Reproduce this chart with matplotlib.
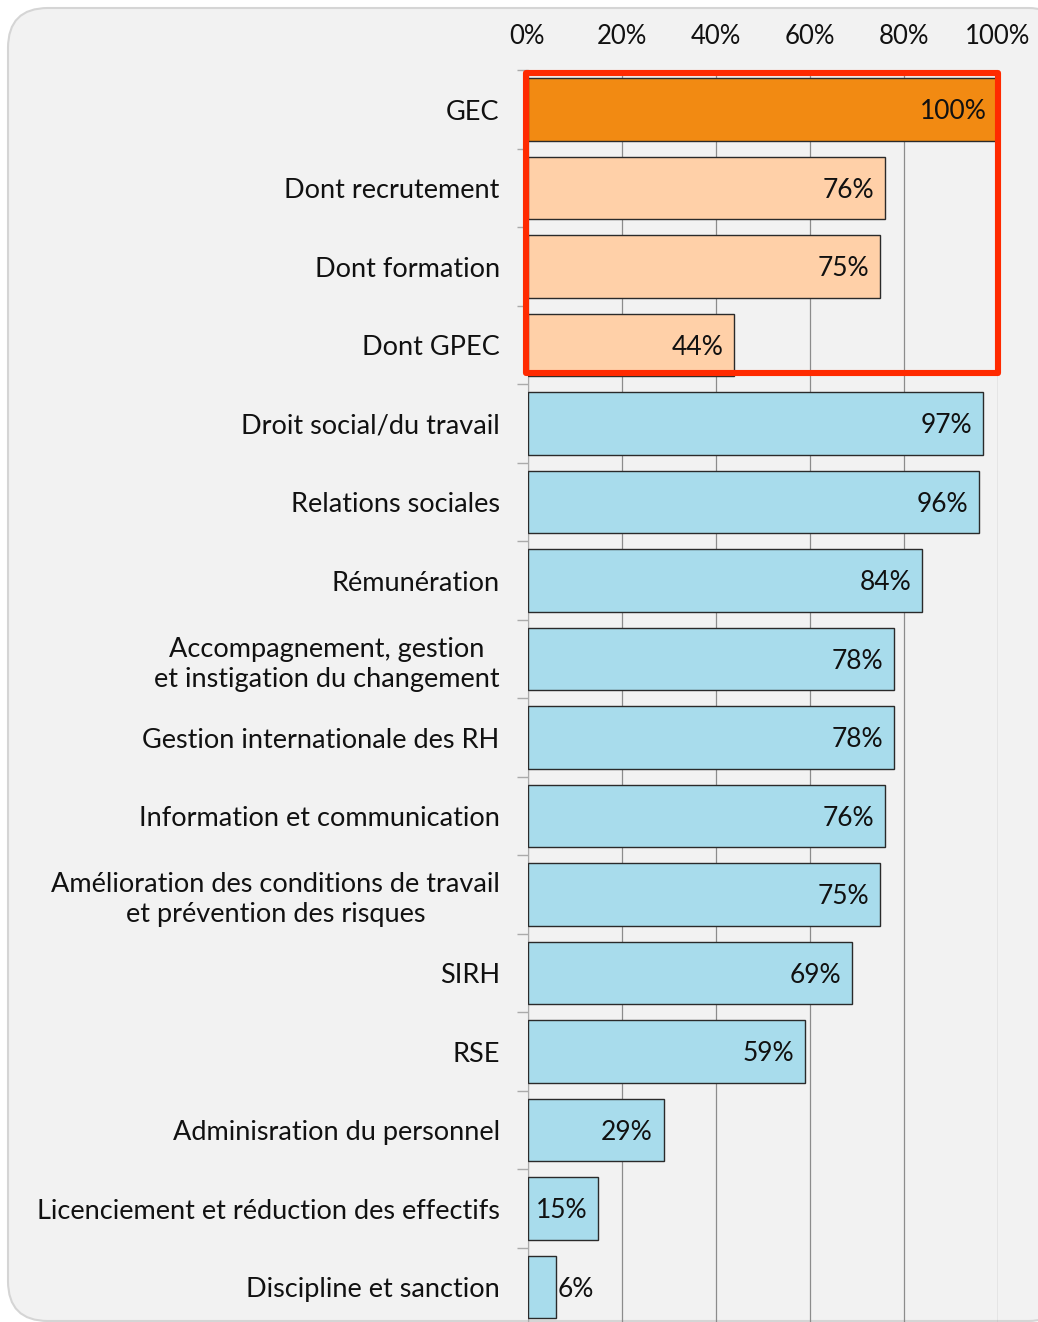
import matplotlib
matplotlib.use("Agg")
import matplotlib.pyplot as plt
from matplotlib.patches import FancyBboxPatch, Rectangle
from matplotlib.transforms import IdentityTransform
from matplotlib.ticker import FixedLocator, PercentFormatter

plt.rcParams['font.family'] = ['Lato', 'DejaVu Sans']

categories = [
    "GEC",
    "Dont recrutement",
    "Dont formation",
    "Dont GPEC",
    "Droit social/du travail",
    "Relations sociales",
    "Rémunération",
    "Accompagnement, gestion\net instigation du changement",
    "Gestion internationale des RH",
    "Information et communication",
    "Amélioration des conditions de travail\net prévention des risques",
    "SIRH",
    "RSE",
    "Adminisration du personnel",
    "Licenciement et réduction des effectifs",
    "Discipline et sanction",
]
values = [100, 76, 75, 44, 97, 96, 84, 78, 78, 76, 75, 69, 59, 29, 15, 6]
groups = ["gec", "sub", "sub", "sub"] + ["other"] * 12
xticks = [0, 20, 40, 60, 80, 100]

colors = {"gec": "#F28A12", "sub": "#FFD0A8", "other": "#A8DCEC"}

W, H = 1038, 1322
fig = plt.figure(figsize=(W / 100, H / 100), dpi=100)
fig.patch.set_facecolor("white")

# rounded background panel (pixel coordinates)
bg = FancyBboxPatch((8, 1), 1060, H - 9,
                    boxstyle="round,pad=0,rounding_size=40",
                    facecolor="#F2F2F2", edgecolor="#D5D5D5", linewidth=1.5,
                    zorder=-5)
bg.set_transform(IdentityTransform())
fig.patches.append(bg)

n = len(categories)
slot = 78.5
top_px = 70.3
bot_px = top_px + slot * n
ax = fig.add_axes([527.5 / W, 1 - bot_px / H, 470 / W, (bot_px - top_px) / H])
ax.set_facecolor("none")
ax.set_zorder(1)

y = list(range(n))
bar_colors = [colors[g] for g in groups]
ax.barh(y, values, height=0.8, color=bar_colors, edgecolor="#2A2A2A",
        linewidth=1.0, zorder=3)
ax.set_ylim(n - 0.5, -0.5)
ax.set_xlim(0, 100)

ax.xaxis.tick_top()
ax.xaxis.set_major_locator(FixedLocator(xticks))
ax.xaxis.set_major_formatter(PercentFormatter(decimals=0))
ax.tick_params(axis="x", length=0, pad=15, labelsize=18.5, colors="#111111")
ax.grid(axis="x", color="#8C8C8C", linewidth=0.9, zorder=1)

ax.set_yticks(y)
ax.set_yticklabels(categories, multialignment="center", linespacing=1.25)
ax.tick_params(axis="y", which="major", length=0, pad=20, labelsize=19.5, colors="#111111")
ax.set_yticks([i + 0.5 for i in range(-1, n)], minor=True)
ax.tick_params(axis="y", which="minor", length=8, color="#AAAAAA", width=1)

for s in ["top", "right", "bottom"]:
    ax.spines[s].set_visible(False)
ax.spines["left"].set_color("#AAAAAA")

for yi, v in zip(y, values):
    if v < 10:
        ax.text(v + 0.5, yi + 0.03, f"{v}%", ha="left", va="center", fontsize=19,
                color="#111111", zorder=5)
    else:
        ax.text(v - 2.3, yi + 0.03, f"{v}%", ha="right", va="center", fontsize=19,
                color="#111111", zorder=5)

# red highlight frame around GEC block
frame = Rectangle((-0.3, -0.47), 100.3, 3.82, fill=False,
                  edgecolor="#FF2A00", linewidth=4.4, zorder=6,
                  clip_on=False, joinstyle="round")
ax.add_patch(frame)

fig.savefig("out.png", dpi=100, facecolor=fig.get_facecolor())
